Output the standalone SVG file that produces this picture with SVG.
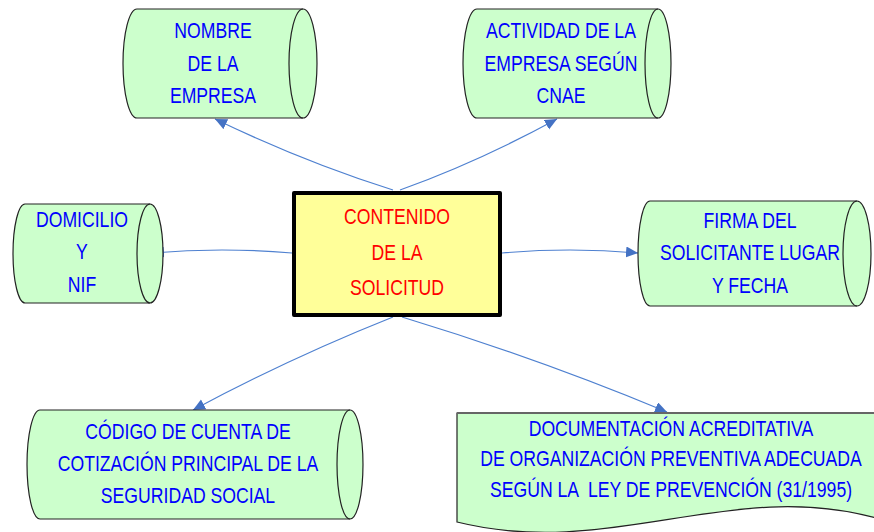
<svg xmlns="http://www.w3.org/2000/svg" width="874" height="532" viewBox="0 0 874 532">
<style>
.shape{fill:#CCFFCC;stroke:#222;stroke-width:1.2}
.inner{fill:none;stroke:#222;stroke-width:1.2}
.t{font-family:"Liberation Sans",Arial,sans-serif;font-size:21.5px;fill:#0000FF;text-anchor:middle}
.tr{fill:#FF0000}
.conn{fill:none;stroke:#4F81D0;stroke-width:1.2}
</style>
<defs>
<marker id="arr" markerUnits="userSpaceOnUse" markerWidth="14" markerHeight="12" refX="12" refY="5.5" orient="auto">
<path d="M0,0 L12,5.5 L0,11 Z" fill="#4472C4"/>
</marker>
</defs>
<rect width="874" height="532" fill="#FFFFFF"/>
<g id="connectors">
<path class="conn" d="M393,190 Q304,162 215,119" marker-end="url(#arr)"/>
<path class="conn" d="M400,190 Q478,162 557,119" marker-end="url(#arr)"/>
<path class="conn" d="M292,253 Q222,247 152,253" marker-end="url(#arr)"/>
<path class="conn" d="M502,253 Q570,247 638,253" marker-end="url(#arr)"/>
<path class="conn" d="M393,317 Q290,358 193,410" marker-end="url(#arr)"/>
<path class="conn" d="M402,317 Q537,358 667,412" marker-end="url(#arr)"/>
</g>
<g id="nombre">
<path class="shape" d="M137,9 L303,9 A14,54.5 0 0 1 303,118 L137,118 A14,54.5 0 0 1 137,9 Z"/>
<path class="inner" d="M303,9 A14,54.5 0 0 0 303,118"/>
<text class="t" transform="translate(213,38) scale(0.82,1)">NOMBRE</text>
<text class="t" transform="translate(213,71) scale(0.82,1)">DE LA</text>
<text class="t" transform="translate(213,103) scale(0.82,1)">EMPRESA</text>
</g>
<g id="actividad">
<path class="shape" d="M477,9 L658,9 A13,54.5 0 0 1 658,118 L477,118 A14,54.5 0 0 1 477,9 Z"/>
<path class="inner" d="M658,9 A13,54.5 0 0 0 658,118"/>
<text class="t" transform="translate(561,38) scale(0.82,1)">ACTIVIDAD DE LA</text>
<text class="t" transform="translate(561,71) scale(0.82,1)">EMPRESA SEGÚN</text>
<text class="t" transform="translate(561,103) scale(0.82,1)">CNAE</text>
</g>
<g id="domicilio">
<path class="shape" d="M25,204 L150,204 A13,49.5 0 0 1 150,303 L25,303 A12,49.5 0 0 1 25,204 Z"/>
<path class="inner" d="M150,204 A13,49.5 0 0 0 150,303"/>
<text class="t" transform="translate(82,227) scale(0.82,1)">DOMICILIO</text>
<text class="t" transform="translate(82,259) scale(0.82,1)">Y</text>
<text class="t" transform="translate(82,292) scale(0.82,1)">NIF</text>
</g>
<g id="contenido">
<rect x="294" y="193" width="206" height="122" fill="#FFFF99" stroke="#000" stroke-width="4" stroke-linejoin="round"/>
<text class="t tr" transform="translate(397,224) scale(0.82,1)">CONTENIDO</text>
<text class="t tr" transform="translate(397,260) scale(0.82,1)">DE LA</text>
<text class="t tr" transform="translate(397,295) scale(0.82,1)">SOLICITUD</text>
</g>
<g id="firma">
<path class="shape" d="M650,201 L857,201 A14,52.5 0 0 1 857,306 L650,306 A12,52.5 0 0 1 650,201 Z"/>
<path class="inner" d="M857,201 A14,52.5 0 0 0 857,306"/>
<text class="t" transform="translate(750,228) scale(0.82,1)">FIRMA DEL</text>
<text class="t" transform="translate(750,260) scale(0.82,1)">SOLICITANTE LUGAR</text>
<text class="t" transform="translate(750,293) scale(0.82,1)">Y FECHA</text>
</g>
<g id="codigo">
<path class="shape" d="M40,410 L350,410 A13,54.5 0 0 1 350,519 L40,519 A13,54.5 0 0 1 40,410 Z"/>
<path class="inner" d="M350,410 A13,54.5 0 0 0 350,519"/>
<text class="t" transform="translate(188,439) scale(0.82,1)">CÓDIGO DE CUENTA DE</text>
<text class="t" transform="translate(188,471) scale(0.82,1)">COTIZACIÓN PRINCIPAL DE LA</text>
<text class="t" transform="translate(188,503) scale(0.82,1)">SEGURIDAD SOCIAL</text>
</g>
<g id="documentacion">
<path class="shape" d="M457,413 L876,413 L876,518 C 730,478 610,560 457,522 Z"/>
<path d="M457,413 L876,413" fill="none" stroke="#666" stroke-width="2"/>
<text class="t" transform="translate(671,436) scale(0.82,1)">DOCUMENTACIÓN ACREDITATIVA</text>
<text class="t" transform="translate(671,466) scale(0.82,1)">DE ORGANIZACIÓN PREVENTIVA ADECUADA</text>
<text class="t" transform="translate(671,497) scale(0.82,1)" xml:space="preserve">SEGÚN LA  LEY DE PREVENCIÓN (31/1995)</text>
</g>
</svg>
